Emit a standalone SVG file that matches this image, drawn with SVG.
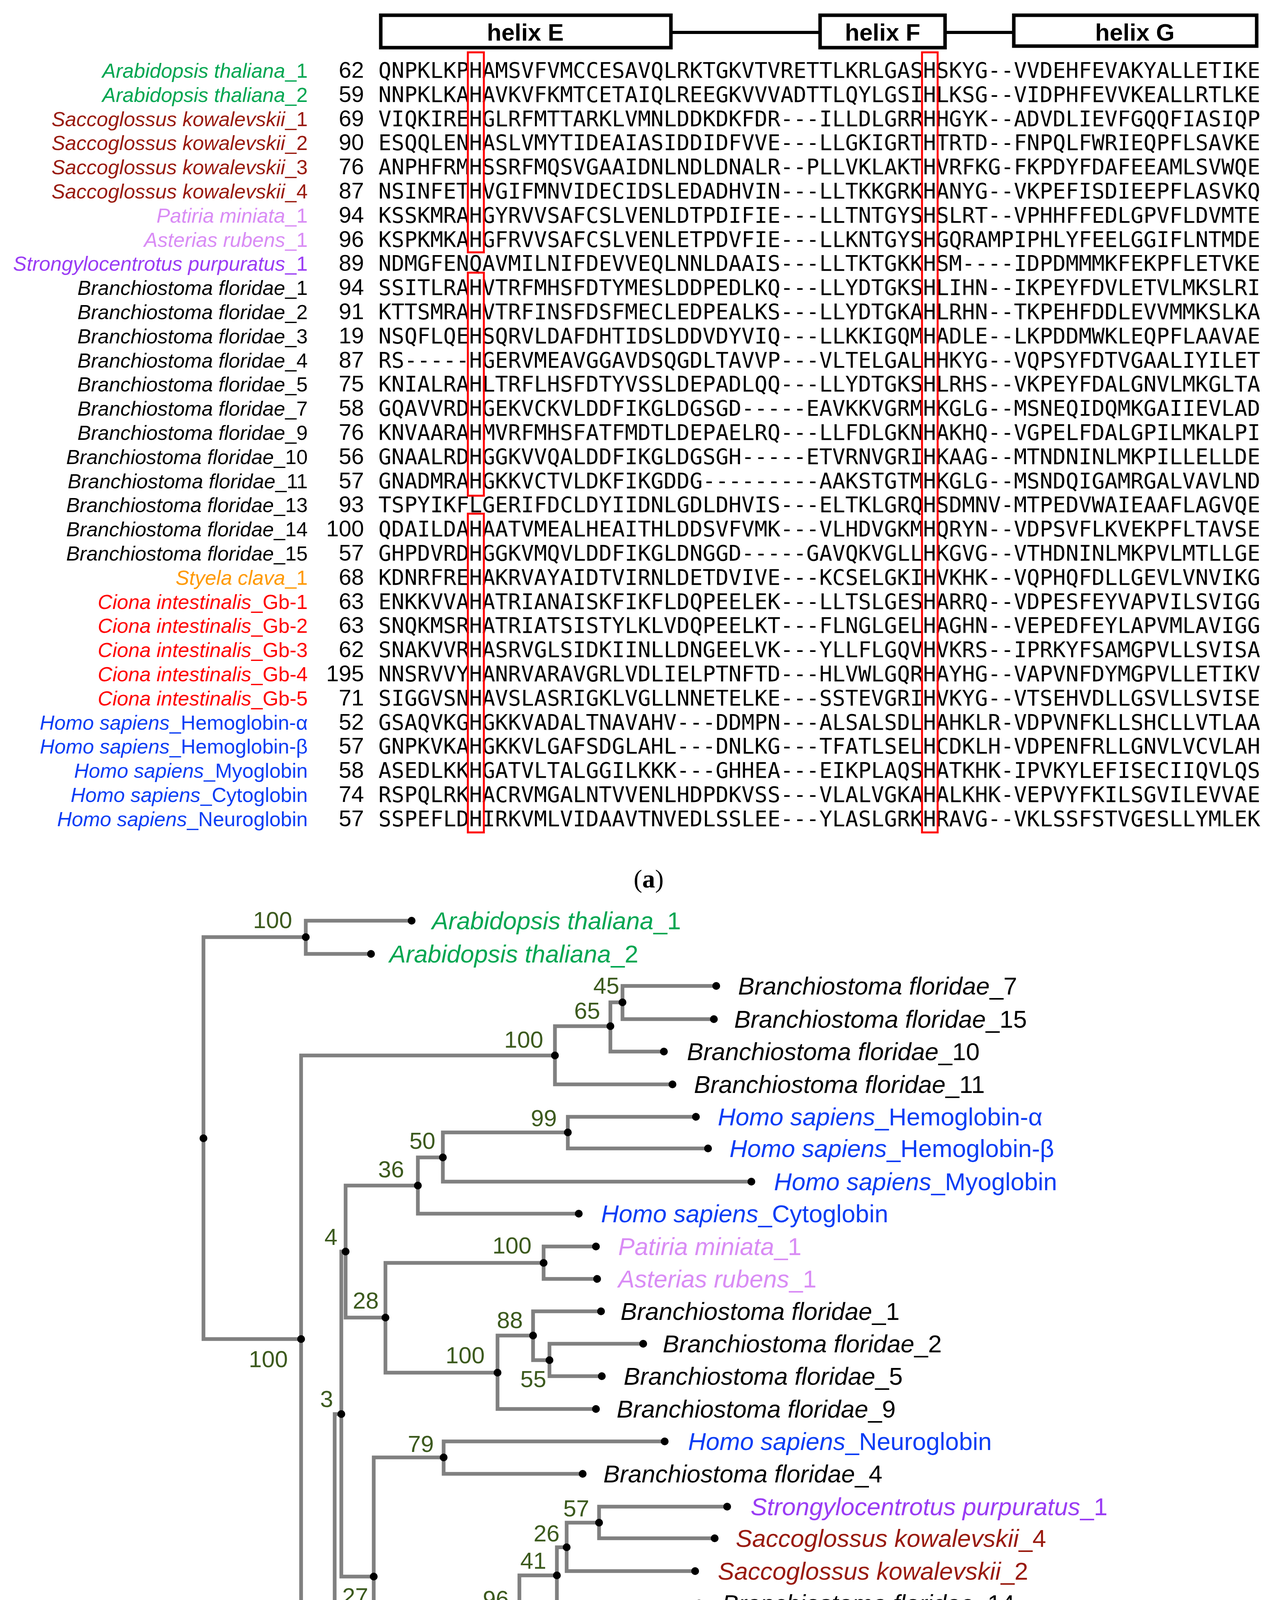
<svg xmlns="http://www.w3.org/2000/svg" width="3270" height="5135" viewBox="0 0 3270 5135">
<style>
.seq{font-family:"DejaVu Sans Mono","Liberation Mono",monospace;font-size:55px;fill:#000}
.nm{font-family:"Liberation Sans",Arial,sans-serif;font-size:52px;font-style:italic;text-anchor:end}
.up{font-style:normal}
.num{font-family:"Liberation Sans",Arial,sans-serif;font-size:58px;text-anchor:end;fill:#000}
.lf{font-family:"Liberation Sans",Arial,sans-serif;font-size:63px;font-style:italic}
.bs{font-family:"Liberation Sans",Arial,sans-serif;font-size:60px;fill:#3C5A1E;text-anchor:end}
.edge{fill:none;stroke:#808080;stroke-width:9.5;stroke-linejoin:miter;stroke-linecap:square}
.hx{fill:#fff;stroke:#000;stroke-width:9}
.hxl{fill:none;stroke:#000;stroke-width:8}
.hxt{font-family:"Liberation Sans",Arial,sans-serif;font-size:61px;font-weight:bold;text-anchor:middle}
.rb{fill:none;stroke:#FF0000;stroke-width:5}
.cap{font-family:"Liberation Serif","Times New Roman",serif;font-size:66px;text-anchor:middle}
.g{fill:#00A651}.sk{fill:#991A0E}.pm{fill:#D98CF5}.sp{fill:#9A3CF4}.bf{fill:#000}.sc{fill:#FF9900}.ci{fill:#FF0000}.hs{fill:#0A3DF5}
circle{fill:#000}
</style>

<g id="helix-header">
<line class="hxl" x1="1718" y1="83" x2="2100" y2="83"/>
<line class="hxl" x1="2420" y1="83" x2="2596" y2="83"/>
<rect class="hx" x="975" y="39" width="743" height="83"/>
<rect class="hx" x="2100" y="39" width="320" height="83"/>
<rect class="hx" x="2596" y="39" width="622" height="79"/>
<text class="hxt" x="1345" y="104">helix E</text>
<text class="hxt" x="2260" y="104">helix F</text>
<text class="hxt" x="2906" y="104">helix G</text>
</g>

<g id="alignment-names">
<text class="nm g" x="788" y="199">Arabidopsis thaliana<tspan class="up">_1</tspan></text>
<text class="nm g" x="788" y="261">Arabidopsis thaliana<tspan class="up">_2</tspan></text>
<text class="nm sk" x="788" y="323">Saccoglossus kowalevskii<tspan class="up">_1</tspan></text>
<text class="nm sk" x="788" y="384">Saccoglossus kowalevskii<tspan class="up">_2</tspan></text>
<text class="nm sk" x="788" y="446">Saccoglossus kowalevskii<tspan class="up">_3</tspan></text>
<text class="nm sk" x="788" y="508">Saccoglossus kowalevskii<tspan class="up">_4</tspan></text>
<text class="nm pm" x="788" y="570">Patiria miniata<tspan class="up">_1</tspan></text>
<text class="nm pm" x="788" y="632">Asterias rubens<tspan class="up">_1</tspan></text>
<text class="nm sp" x="788" y="693">Strongylocentrotus purpuratus<tspan class="up">_1</tspan></text>
<text class="nm bf" x="788" y="755">Branchiostoma floridae<tspan class="up">_1</tspan></text>
<text class="nm bf" x="788" y="817">Branchiostoma floridae<tspan class="up">_2</tspan></text>
<text class="nm bf" x="788" y="879">Branchiostoma floridae<tspan class="up">_3</tspan></text>
<text class="nm bf" x="788" y="941">Branchiostoma floridae<tspan class="up">_4</tspan></text>
<text class="nm bf" x="788" y="1002">Branchiostoma floridae<tspan class="up">_5</tspan></text>
<text class="nm bf" x="788" y="1064">Branchiostoma floridae<tspan class="up">_7</tspan></text>
<text class="nm bf" x="788" y="1126">Branchiostoma floridae<tspan class="up">_9</tspan></text>
<text class="nm bf" x="788" y="1188">Branchiostoma floridae<tspan class="up">_10</tspan></text>
<text class="nm bf" x="788" y="1250">Branchiostoma floridae<tspan class="up">_11</tspan></text>
<text class="nm bf" x="788" y="1311">Branchiostoma floridae<tspan class="up">_13</tspan></text>
<text class="nm bf" x="788" y="1373">Branchiostoma floridae<tspan class="up">_14</tspan></text>
<text class="nm bf" x="788" y="1435">Branchiostoma floridae<tspan class="up">_15</tspan></text>
<text class="nm sc" x="788" y="1497">Styela clava<tspan class="up">_1</tspan></text>
<text class="nm ci" x="788" y="1559">Ciona intestinalis<tspan class="up">_Gb-1</tspan></text>
<text class="nm ci" x="788" y="1620">Ciona intestinalis<tspan class="up">_Gb-2</tspan></text>
<text class="nm ci" x="788" y="1682">Ciona intestinalis<tspan class="up">_Gb-3</tspan></text>
<text class="nm ci" x="788" y="1744">Ciona intestinalis<tspan class="up">_Gb-4</tspan></text>
<text class="nm ci" x="788" y="1806">Ciona intestinalis<tspan class="up">_Gb-5</tspan></text>
<text class="nm hs" x="788" y="1868">Homo sapiens<tspan class="up">_Hemoglobin-α</tspan></text>
<text class="nm hs" x="788" y="1929">Homo sapiens<tspan class="up">_Hemoglobin-β</tspan></text>
<text class="nm hs" x="788" y="1991">Homo sapiens<tspan class="up">_Myoglobin</tspan></text>
<text class="nm hs" x="788" y="2053">Homo sapiens<tspan class="up">_Cytoglobin</tspan></text>
<text class="nm hs" x="788" y="2115">Homo sapiens<tspan class="up">_Neuroglobin</tspan></text>
</g>

<g id="alignment-numbers">
<text class="num" x="932" y="199">62</text>
<text class="num" x="932" y="261">59</text>
<text class="num" x="932" y="323">69</text>
<text class="num" x="932" y="384">90</text>
<text class="num" x="932" y="446">76</text>
<text class="num" x="932" y="508">87</text>
<text class="num" x="932" y="570">94</text>
<text class="num" x="932" y="632">96</text>
<text class="num" x="932" y="693">89</text>
<text class="num" x="932" y="755">94</text>
<text class="num" x="932" y="817">91</text>
<text class="num" x="932" y="879">19</text>
<text class="num" x="932" y="941">87</text>
<text class="num" x="932" y="1002">75</text>
<text class="num" x="932" y="1064">58</text>
<text class="num" x="932" y="1126">76</text>
<text class="num" x="932" y="1188">56</text>
<text class="num" x="932" y="1250">57</text>
<text class="num" x="932" y="1311">93</text>
<text class="num" x="932" y="1373">100</text>
<text class="num" x="932" y="1435">57</text>
<text class="num" x="932" y="1497">68</text>
<text class="num" x="932" y="1559">63</text>
<text class="num" x="932" y="1620">63</text>
<text class="num" x="932" y="1682">62</text>
<text class="num" x="932" y="1744">195</text>
<text class="num" x="932" y="1806">71</text>
<text class="num" x="932" y="1868">52</text>
<text class="num" x="932" y="1929">57</text>
<text class="num" x="932" y="1991">58</text>
<text class="num" x="932" y="2053">74</text>
<text class="num" x="932" y="2115">57</text>
</g>

<g id="alignment-sequences">
<text class="seq" x="969" y="199" textLength="2258" lengthAdjust="spacing">QNPKLKPHAMSVFVMCCESAVQLRKTGKVTVRETTLKRLGASHSKYG--VVDEHFEVAKYALLETIKE</text>
<text class="seq" x="969" y="261" textLength="2258" lengthAdjust="spacing">NNPKLKAHAVKVFKMTCETAIQLREEGKVVVADTTLQYLGSIHLKSG--VIDPHFEVVKEALLRTLKE</text>
<text class="seq" x="969" y="323" textLength="2258" lengthAdjust="spacing">VIQKIREHGLRFMTTARKLVMNLDDKDKFDR---ILLDLGRRHHGYK--ADVDLIEVFGQQFIASIQP</text>
<text class="seq" x="969" y="384" textLength="2258" lengthAdjust="spacing">ESQQLENHASLVMYTIDEAIASIDDIDFVVE---LLGKIGRTHTRTD--FNPQLFWRIEQPFLSAVKE</text>
<text class="seq" x="969" y="446" textLength="2258" lengthAdjust="spacing">ANPHFRMHSSRFMQSVGAAIDNLNDLDNALR--PLLVKLAKTHVRFKG-FKPDYFDAFEEAMLSVWQE</text>
<text class="seq" x="969" y="508" textLength="2258" lengthAdjust="spacing">NSINFETHVGIFMNVIDECIDSLEDADHVIN---LLTKKGRKHANYG--VKPEFISDIEEPFLASVKQ</text>
<text class="seq" x="969" y="570" textLength="2258" lengthAdjust="spacing">KSSKMRAHGYRVVSAFCSLVENLDTPDIFIE---LLTNTGYSHSLRT--VPHHFFEDLGPVFLDVMTE</text>
<text class="seq" x="969" y="632" textLength="2258" lengthAdjust="spacing">KSPKMKAHGFRVVSAFCSLVENLETPDVFIE---LLKNTGYSHGQRAMPIPHLYFEELGGIFLNTMDE</text>
<text class="seq" x="969" y="693" textLength="2258" lengthAdjust="spacing">NDMGFENQAVMILNIFDEVVEQLNNLDAAIS---LLTKTGKKHSM----IDPDMMMKFEKPFLETVKE</text>
<text class="seq" x="969" y="755" textLength="2258" lengthAdjust="spacing">SSITLRAHVTRFMHSFDTYMESLDDPEDLKQ---LLYDTGKSHLIHN--IKPEYFDVLETVLMKSLRI</text>
<text class="seq" x="969" y="817" textLength="2258" lengthAdjust="spacing">KTTSMRAHVTRFINSFDSFMECLEDPEALKS---LLYDTGKAHLRHN--TKPEHFDDLEVVMMKSLKA</text>
<text class="seq" x="969" y="879" textLength="2258" lengthAdjust="spacing">NSQFLQEHSQRVLDAFDHTIDSLDDVDYVIQ---LLKKIGQMHADLE--LKPDDMWKLEQPFLAAVAE</text>
<text class="seq" x="969" y="941" textLength="2258" lengthAdjust="spacing">RS-----HGERVMEAVGGAVDSQGDLTAVVP---VLTELGALHHKYG--VQPSYFDTVGAALIYILET</text>
<text class="seq" x="969" y="1002" textLength="2258" lengthAdjust="spacing">KNIALRAHLTRFLHSFDTYVSSLDEPADLQQ---LLYDTGKSHLRHS--VKPEYFDALGNVLMKGLTA</text>
<text class="seq" x="969" y="1064" textLength="2258" lengthAdjust="spacing">GQAVVRDHGEKVCKVLDDFIKGLDGSGD-----EAVKKVGRMHKGLG--MSNEQIDQMKGAIIEVLAD</text>
<text class="seq" x="969" y="1126" textLength="2258" lengthAdjust="spacing">KNVAARAHMVRFMHSFATFMDTLDEPAELRQ---LLFDLGKNHAKHQ--VGPELFDALGPILMKALPI</text>
<text class="seq" x="969" y="1188" textLength="2258" lengthAdjust="spacing">GNAALRDHGGKVVQALDDFIKGLDGSGH-----ETVRNVGRIHKAAG--MTNDNINLMKPILLELLDE</text>
<text class="seq" x="969" y="1250" textLength="2258" lengthAdjust="spacing">GNADMRAHGKKVCTVLDKFIKGDDG---------AAKSTGTMHKGLG--MSNDQIGAMRGALVAVLND</text>
<text class="seq" x="969" y="1311" textLength="2258" lengthAdjust="spacing">TSPYIKFLGERIFDCLDYIIDNLGDLDHVIS---ELTKLGRQHSDMNV-MTPEDVWAIEAAFLAGVQE</text>
<text class="seq" x="969" y="1373" textLength="2258" lengthAdjust="spacing">QDAILDAHAATVMEALHEAITHLDDSVFVMK---VLHDVGKMHQRYN--VDPSVFLKVEKPFLTAVSE</text>
<text class="seq" x="969" y="1435" textLength="2258" lengthAdjust="spacing">GHPDVRDHGGKVMQVLDDFIKGLDNGGD-----GAVQKVGLLHKGVG--VTHDNINLMKPVLMTLLGE</text>
<text class="seq" x="969" y="1497" textLength="2258" lengthAdjust="spacing">KDNRFREHAKRVAYAIDTVIRNLDETDVIVE---KCSELGKIHVKHK--VQPHQFDLLGEVLVNVIKG</text>
<text class="seq" x="969" y="1559" textLength="2258" lengthAdjust="spacing">ENKKVVAHATRIANAISKFIKFLDQPEELEK---LLTSLGESHARRQ--VDPESFEYVAPVILSVIGG</text>
<text class="seq" x="969" y="1620" textLength="2258" lengthAdjust="spacing">SNQKMSRHATRIATSISTYLKLVDQPEELKT---FLNGLGELHAGHN--VEPEDFEYLAPVMLAVIGG</text>
<text class="seq" x="969" y="1682" textLength="2258" lengthAdjust="spacing">SNAKVVRHASRVGLSIDKIINLLDNGEELVK---YLLFLGQVHVKRS--IPRKYFSAMGPVLLSVISA</text>
<text class="seq" x="969" y="1744" textLength="2258" lengthAdjust="spacing">NNSRVVYHANRVARAVGRLVDLIELPTNFTD---HLVWLGQRHAYHG--VAPVNFDYMGPVLLETIKV</text>
<text class="seq" x="969" y="1806" textLength="2258" lengthAdjust="spacing">SIGGVSNHAVSLASRIGKLVGLLNNETELKE---SSTEVGRIHVKYG--VTSEHVDLLGSVLLSVISE</text>
<text class="seq" x="969" y="1868" textLength="2258" lengthAdjust="spacing">GSAQVKGHGKKVADALTNAVAHV---DDMPN---ALSALSDLHAHKLR-VDPVNFKLLSHCLLVTLAA</text>
<text class="seq" x="969" y="1929" textLength="2258" lengthAdjust="spacing">GNPKVKAHGKKVLGAFSDGLAHL---DNLKG---TFATLSELHCDKLH-VDPENFRLLGNVLVCVLAH</text>
<text class="seq" x="969" y="1991" textLength="2258" lengthAdjust="spacing">ASEDLKKHGATVLTALGGILKKK---GHHEA---EIKPLAQSHATKHK-IPVKYLEFISECIIQVLQS</text>
<text class="seq" x="969" y="2053" textLength="2258" lengthAdjust="spacing">RSPQLRKHACRVMGALNTVVENLHDPDKVSS---VLALVGKAHALKHK-VEPVYFKILSGVILEVVAE</text>
<text class="seq" x="969" y="2115" textLength="2258" lengthAdjust="spacing">SSPEFLDHIRKVMLVIDAAVTNVEDLSSLEE---YLASLGRKHRAVG--VKLSSFSTVGESLLYMLEK</text>
</g>

<g id="red-boxes">
<rect class="rb" x="1198" y="134" width="41" height="512"/>
<rect class="rb" x="1198" y="698" width="41" height="571"/>
<rect class="rb" x="1198" y="1315" width="41" height="816"/>
<rect class="rb" x="2361" y="134" width="40" height="1997"/>
</g>

<text id="label-a" class="cap" x="1661" y="2272">(<tspan font-weight="bold">a</tspan>)</text>

<g id="connectors">
<path class="edge" d="M783,2399 H521 V3428 H771"/>
<path class="edge" d="M1054,2357 H783 V2442 H950"/>
<path class="edge" d="M1421,2702 H771 V4156 H857"/>
<path class="edge" d="M1563,2627 H1421 V2776 H1722"/>
<path class="edge" d="M1594,2566 H1563 V2692 H1700"/>
<path class="edge" d="M1834,2524 H1594 V2609 H1828"/>
<path class="edge" d="M874,3620 H857 V4691 H1025"/>
<path class="edge" d="M885,3204 H874 V4036 H957"/>
<path class="edge" d="M1070,3035 H885 V3373 H987"/>
<path class="edge" d="M1134,2963 H1070 V3107 H1482"/>
<path class="edge" d="M1454,2899 H1134 V3025 H1924"/>
<path class="edge" d="M1782,2859 H1454 V2940 H1813"/>
<path class="edge" d="M1392,3233 H987 V3514 H1274"/>
<path class="edge" d="M1526,3191 H1392 V3274 H1529"/>
<path class="edge" d="M1365,3419 H1274 V3607 H1526"/>
<path class="edge" d="M1539,3357 H1365 V3482 H1407"/>
<path class="edge" d="M1647,3440 H1407 V3523 H1541"/>
<path class="edge" d="M1136,3731 H957 V4340 H1048"/>
<path class="edge" d="M1702,3690 H1136 V3773 H1492"/>
<path class="edge" d="M1095,4244 H1048 V4438 H1765"/>
<path class="edge" d="M1330,4132 H1095 V4355 H1566"/>
<path class="edge" d="M1426,4033 H1330 V4230 H1543"/>
<path class="edge" d="M1451,3961 H1426 V4105 H1790"/>
<path class="edge" d="M1534,3898 H1451 V4022 H1780"/>
<path class="edge" d="M1862,3857 H1534 V3938 H1830"/>
<path class="edge" d="M1705,4190 H1543 V4272 H1924"/>
<path class="edge" d="M1408,4521 H1025 V4860 H1042"/>
<path class="edge" d="M1120,4782 H1042 V4939 H1659"/>
<path class="edge" d="M1193,4709 H1120 V4856 H1480"/>
<path class="edge" d="M1355,4646 H1193 V4772 H1476"/>
<path class="edge" d="M1499,4605 H1355 V4688 H1526"/>
</g>

<g id="internal-nodes">
<g id="n-root"><circle cx="521" cy="2914" r="10"/></g>
<g id="n-at"><circle cx="783" cy="2399" r="10"/><text class="bs" x="748" y="2376">100</text></g>
<g id="n-100b"><circle cx="771" cy="3428" r="10"/><text class="bs" x="737" y="3500">100</text></g>
<g id="n-bf"><circle cx="1421" cy="2702" r="10"/><text class="bs" x="1391" y="2682">100</text></g>
<g id="n-65"><circle cx="1563" cy="2627" r="10"/><text class="bs" x="1537" y="2608">65</text></g>
<g id="n-45"><circle cx="1594" cy="2566" r="10"/><text class="bs" x="1586" y="2544">45</text></g>
<g id="n-24"><circle cx="857" cy="4156" r="10"/><text class="bs" x="829" y="4217">24</text></g>
<g id="n-3"><circle cx="874" cy="3620" r="10"/><text class="bs" x="853" y="3602">3</text></g>
<g id="n-4"><circle cx="885" cy="3204" r="10"/><text class="bs" x="864" y="3187">4</text></g>
<g id="n-36a"><circle cx="1070" cy="3035" r="10"/><text class="bs" x="1035" y="3014">36</text></g>
<g id="n-50"><circle cx="1134" cy="2963" r="10"/><text class="bs" x="1115" y="2941">50</text></g>
<g id="n-99"><circle cx="1454" cy="2899" r="10"/><text class="bs" x="1426" y="2883">99</text></g>
<g id="n-28"><circle cx="987" cy="3373" r="10"/><text class="bs" x="970" y="3350">28</text></g>
<g id="n-star"><circle cx="1392" cy="3233" r="10"/><text class="bs" x="1361" y="3209">100</text></g>
<g id="n-bf1259"><circle cx="1274" cy="3514" r="10"/><text class="bs" x="1241" y="3490">100</text></g>
<g id="n-88"><circle cx="1365" cy="3419" r="10"/><text class="bs" x="1339" y="3400">88</text></g>
<g id="n-55"><circle cx="1407" cy="3482" r="10"/><text class="bs" x="1399" y="3551">55</text></g>
<g id="n-27"><circle cx="957" cy="4036" r="10"/><text class="bs" x="943" y="4107">27</text></g>
<g id="n-79"><circle cx="1136" cy="3731" r="10"/><text class="bs" x="1111" y="3717">79</text></g>
<g id="n-48"><circle cx="1048" cy="4340" r="10"/><text class="bs" x="1021" y="4409">48</text></g>
<g id="n-49"><circle cx="1095" cy="4244" r="10"/><text class="bs" x="1068" y="4228">49</text></g>
<g id="n-96"><circle cx="1330" cy="4132" r="10"/><text class="bs" x="1303" y="4114">96</text></g>
<g id="n-41"><circle cx="1426" cy="4033" r="10"/><text class="bs" x="1399" y="4016">41</text></g>
<g id="n-26"><circle cx="1451" cy="3961" r="10"/><text class="bs" x="1433" y="3946">26</text></g>
<g id="n-57"><circle cx="1534" cy="3898" r="10"/><text class="bs" x="1509" y="3882">57</text></g>
<g id="n-86"><circle cx="1543" cy="4230" r="10"/><text class="bs" x="1517" y="4214">86</text></g>
<g id="n-71"><circle cx="1025" cy="4691" r="10"/><text class="bs" x="995" y="4677">71</text></g>
<g id="n-36b"><circle cx="1042" cy="4860" r="10"/><text class="bs" x="1019" y="4923">36</text></g>
<g id="n-53"><circle cx="1120" cy="4782" r="10"/><text class="bs" x="1111" y="4766">53</text></g>
<g id="n-67"><circle cx="1193" cy="4709" r="10"/><text class="bs" x="1176" y="4699">67</text></g>
<g id="n-97"><circle cx="1355" cy="4646" r="10"/><text class="bs" x="1328" y="4623">97</text></g>
</g>

<g id="leaves">
<g id="l-at1"><circle cx="1054" cy="2357" r="10"/><text class="lf g" x="1106" y="2379">Arabidopsis thaliana<tspan class="up">_1</tspan></text></g>
<g id="l-at2"><circle cx="950" cy="2442" r="10"/><text class="lf g" x="997" y="2464">Arabidopsis thaliana<tspan class="up">_2</tspan></text></g>
<g id="l-bf7"><circle cx="1834" cy="2524" r="10"/><text class="lf bf" x="1890" y="2546">Branchiostoma floridae<tspan class="up">_7</tspan></text></g>
<g id="l-bf15"><circle cx="1828" cy="2609" r="10"/><text class="lf bf" x="1880" y="2631">Branchiostoma floridae<tspan class="up">_15</tspan></text></g>
<g id="l-bf10"><circle cx="1700" cy="2692" r="10"/><text class="lf bf" x="1759" y="2714">Branchiostoma floridae<tspan class="up">_10</tspan></text></g>
<g id="l-bf11"><circle cx="1722" cy="2776" r="10"/><text class="lf bf" x="1777" y="2798">Branchiostoma floridae<tspan class="up">_11</tspan></text></g>
<g id="l-hba"><circle cx="1782" cy="2859" r="10"/><text class="lf hs" x="1838" y="2881">Homo sapiens<tspan class="up">_Hemoglobin-α</tspan></text></g>
<g id="l-hbb"><circle cx="1813" cy="2940" r="10"/><text class="lf hs" x="1868" y="2962">Homo sapiens<tspan class="up">_Hemoglobin-β</tspan></text></g>
<g id="l-myo"><circle cx="1924" cy="3025" r="10"/><text class="lf hs" x="1982" y="3047">Homo sapiens<tspan class="up">_Myoglobin</tspan></text></g>
<g id="l-cyto"><circle cx="1482" cy="3107" r="10"/><text class="lf hs" x="1539" y="3129">Homo sapiens<tspan class="up">_Cytoglobin</tspan></text></g>
<g id="l-pm"><circle cx="1526" cy="3191" r="10"/><text class="lf pm" x="1583" y="3213">Patiria miniata<tspan class="up">_1</tspan></text></g>
<g id="l-ar"><circle cx="1529" cy="3274" r="10"/><text class="lf pm" x="1583" y="3296">Asterias rubens<tspan class="up">_1</tspan></text></g>
<g id="l-bf1"><circle cx="1539" cy="3357" r="10"/><text class="lf bf" x="1589" y="3379">Branchiostoma floridae<tspan class="up">_1</tspan></text></g>
<g id="l-bf2"><circle cx="1647" cy="3440" r="10"/><text class="lf bf" x="1697" y="3462">Branchiostoma floridae<tspan class="up">_2</tspan></text></g>
<g id="l-bf5"><circle cx="1541" cy="3523" r="10"/><text class="lf bf" x="1597" y="3545">Branchiostoma floridae<tspan class="up">_5</tspan></text></g>
<g id="l-bf9"><circle cx="1526" cy="3607" r="10"/><text class="lf bf" x="1579" y="3629">Branchiostoma floridae<tspan class="up">_9</tspan></text></g>
<g id="l-neuro"><circle cx="1702" cy="3690" r="10"/><text class="lf hs" x="1762" y="3712">Homo sapiens<tspan class="up">_Neuroglobin</tspan></text></g>
<g id="l-bf4"><circle cx="1492" cy="3773" r="10"/><text class="lf bf" x="1545" y="3795">Branchiostoma floridae<tspan class="up">_4</tspan></text></g>
<g id="l-sp"><circle cx="1862" cy="3857" r="10"/><text class="lf sp" x="1922" y="3879">Strongylocentrotus purpuratus<tspan class="up">_1</tspan></text></g>
<g id="l-sk4"><circle cx="1830" cy="3938" r="10"/><text class="lf sk" x="1884" y="3960">Saccoglossus kowalevskii<tspan class="up">_4</tspan></text></g>
<g id="l-sk2"><circle cx="1780" cy="4022" r="10"/><text class="lf sk" x="1838" y="4044">Saccoglossus kowalevskii<tspan class="up">_2</tspan></text></g>
<g id="l-bf14"><circle cx="1790" cy="4105" r="10"/><text class="lf bf" x="1849" y="4127">Branchiostoma floridae<tspan class="up">_14</tspan></text></g>
<g id="l-bf3"><circle cx="1705" cy="4190" r="10"/><text class="lf bf" x="1761" y="4212">Branchiostoma floridae<tspan class="up">_3</tspan></text></g>
<g id="l-bf13"><circle cx="1924" cy="4272" r="10"/><text class="lf bf" x="1976" y="4294">Branchiostoma floridae<tspan class="up">_13</tspan></text></g>
<g id="l-sk3"><circle cx="1566" cy="4355" r="10"/><text class="lf sk" x="1624" y="4377">Saccoglossus kowalevskii<tspan class="up">_3</tspan></text></g>
<g id="l-sk1"><circle cx="1765" cy="4438" r="10"/><text class="lf sk" x="1825" y="4460">Saccoglossus kowalevskii<tspan class="up">_1</tspan></text></g>
<g id="l-sc"><circle cx="1408" cy="4521" r="10"/><text class="lf sc" x="1463" y="4543">Styela clava<tspan class="up">_1</tspan></text></g>
<g id="l-ci1"><circle cx="1499" cy="4605" r="10"/><text class="lf ci" x="1558" y="4627">Ciona intestinalis<tspan class="up">_Gb-1</tspan></text></g>
<g id="l-ci2"><circle cx="1526" cy="4688" r="10"/><text class="lf ci" x="1584" y="4710">Ciona intestinalis<tspan class="up">_Gb-2</tspan></text></g>
<g id="l-ci4"><circle cx="1476" cy="4772" r="10"/><text class="lf ci" x="1536" y="4794">Ciona intestinalis<tspan class="up">_Gb-4</tspan></text></g>
<g id="l-ci3"><circle cx="1480" cy="4856" r="10"/><text class="lf ci" x="1536" y="4878">Ciona intestinalis<tspan class="up">_Gb-3</tspan></text></g>
<g id="l-ci5"><circle cx="1659" cy="4939" r="10"/><text class="lf ci" x="1712" y="4961">Ciona intestinalis<tspan class="up">_Gb-5</tspan></text></g>
</g>

<g id="scale-bar">
<text class="bs" x="590" y="4788" style="text-anchor:middle">0.2</text>
<line x1="518" y1="4813" x2="664" y2="4813" stroke="#000" stroke-width="7"/>
</g>

<text id="label-b" class="cap" x="1662" y="5100">(<tspan font-weight="bold">b</tspan>)</text>
</svg>
